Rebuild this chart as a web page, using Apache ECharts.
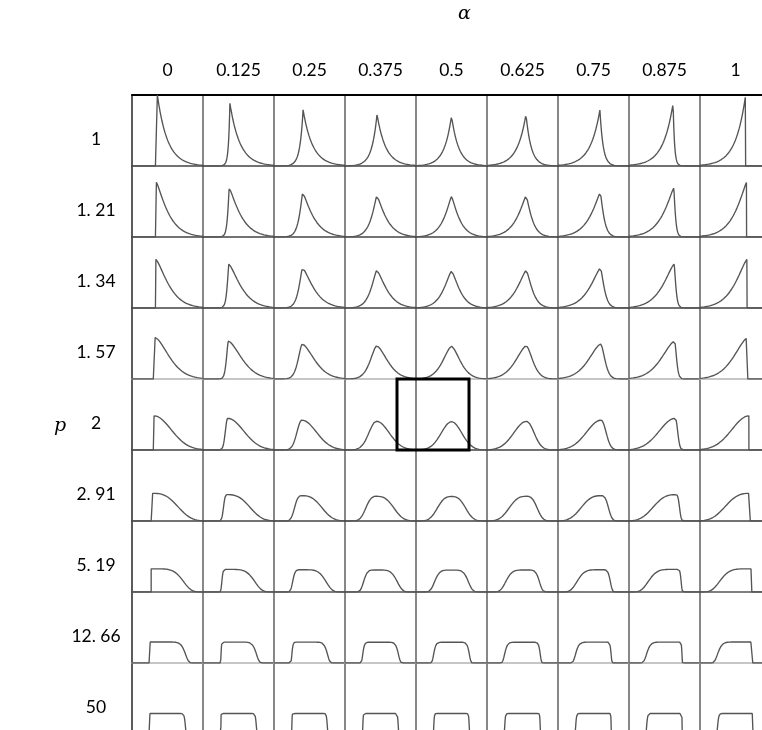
<!DOCTYPE html>
<html>
<head>
<meta charset="utf-8">
<script src="https://cdn.jsdelivr.net/npm/echarts@6/dist/echarts.min.js"></script>
<style>
  html, body { margin: 0; padding: 0; background: #fff; }
  #chart { width: 762px; height: 730px; }
</style>
</head>
<body>
<div id="chart"></div>
<script>
// Skew parameter (columns) and shape parameter (rows) of the asymmetric generalized Gaussian
const alphaLabels = ['0', '0.125', '0.25', '0.375', '0.5', '0.625', '0.75', '0.875', '1'];
const alphaValues = [0, 0.125, 0.25, 0.375, 0.5, 0.625, 0.75, 0.875, 1];
const pLabels = ['1', '1. 21', '1. 34', '1. 57', '2', '2. 91', '5. 19', '12. 66', '50'];
const pValues = [1, 1.21, 1.34, 1.57, 2, 2.91, 5.19, 12.66, 50];

// Each panel shows the standardized density (zero mean, unit variance)
const xRange = [-3.5, 3.5];
const densityRange = [0, 1];

// Table layout
const TABLE_LEFT = 132;
const TABLE_TOP = 95;
const CELL = 71;
const rowLineColors = ['#444', '#444', '#444', '#b4b4b4', '#444', '#444', '#555', '#b4b4b4', '#444'];

function gamma(z) {
  if (z < 0.5) return Math.PI / (Math.sin(Math.PI * z) * gamma(1 - z));
  z -= 1;
  const c = [0.99999999999980993, 676.5203681218851, -1259.1392167224028,
    771.32342877765313, -176.61502916214059, 12.507343278686905,
    -0.13857109526572012, 9.9843695780195716e-6, 1.5056327351493116e-7];
  let x = c[0];
  for (let i = 1; i < 9; i++) x += c[i] / (z + i);
  const t = z + 7.5;
  return Math.sqrt(2 * Math.PI) * Math.pow(t, z + 0.5) * Math.exp(-t) * x;
}

// Asymmetric generalized Gaussian: left scale ~ alpha, right scale ~ (1 - alpha)
function densityCurve(alpha, p) {
  const bl = alpha, br = 1 - alpha;
  const g1 = gamma(1 / p), g2 = gamma(2 / p), g3 = gamma(3 / p);
  const mean = (br - bl) * g2 / g1;
  const m2 = (br * br * br + bl * bl * bl) * g3 / ((bl + br) * g1);
  const s = 1 / Math.sqrt(m2 - mean * mean);
  const norm = p / ((bl + br) * g1);
  const raw = x => {
    if (x === 0) return norm;
    if (x < 0) return bl === 0 ? 0 : norm * Math.exp(-Math.pow(-x / bl, p));
    return br === 0 ? 0 : norm * Math.exp(-Math.pow(x / br, p));
  };
  const mode = -mean * s;
  const peak = norm / s;
  const N = 500;
  const left = [], right = [];
  for (let i = 0; i <= N; i++) {
    const xs = xRange[0] + (xRange[1] - xRange[0]) * i / N;
    const y = raw(xs / s + mean) / s;
    if (xs < mode) left.push([xs, y]);
    else if (xs > mode) right.push([xs, y]);
  }
  const mid = [];
  if (bl === 0) mid.push([mode, 0]);
  mid.push([mode, peak]);
  if (br === 0) mid.push([mode, 0]);
  return left.concat(mid, right);
}

const grids = [], xAxes = [], yAxes = [], series = [];
pValues.forEach((p, r) => {
  alphaValues.forEach((a, c) => {
    const idx = grids.length;
    grids.push({
      left: TABLE_LEFT + c * CELL, top: TABLE_TOP + r * CELL,
      width: CELL, height: CELL, containLabel: false, outerBoundsMode: 'none'
    });
    xAxes.push({
      gridIndex: idx, type: 'value', min: xRange[0], max: xRange[1],
      axisLine: { show: true, onZero: false, lineStyle: { color: rowLineColors[r], width: 1.6 } },
      axisTick: { show: false }, axisLabel: { show: false }, splitLine: { show: false }
    });
    yAxes.push({
      gridIndex: idx, type: 'value', min: densityRange[0], max: densityRange[1],
      axisLine: { show: true, onZero: false, lineStyle: { color: c === 0 ? '#333' : '#6a6a6a', width: 1.6 } },
      axisTick: { show: false }, axisLabel: { show: false }, splitLine: { show: false }
    });
    series.push({
      type: 'line', xAxisIndex: idx, yAxisIndex: idx,
      data: densityCurve(a, p),
      showSymbol: false, symbol: 'none', silent: true,
      lineStyle: { color: '#555', width: 1.35 }
    });
  });
});

// Header grid carrying the row / column labels
const headerIdx = grids.length;
grids.push({ left: TABLE_LEFT, top: TABLE_TOP, width: CELL * 9, height: CELL * 9, outerBoundsMode: 'none' });
xAxes.push({
  gridIndex: headerIdx, type: 'category', data: alphaLabels, position: 'top',
  axisLine: { show: true, lineStyle: { color: '#000', width: 2 } },
  axisTick: { show: false }, splitLine: { show: false },
  axisLabel: { margin: 25, verticalAlign: 'middle', color: '#000', fontSize: 17.5, fontFamily: 'Lato' }
});
yAxes.push({
  gridIndex: headerIdx, type: 'category', data: pLabels, inverse: true,
  axisLine: { show: false }, axisTick: { show: false }, splitLine: { show: false },
  axisLabel: { margin: 36, align: 'center', verticalAlign: 'top',
    color: '#000', fontSize: 17.5, fontFamily: 'Lato' }
});

const chart = echarts.init(document.getElementById('chart'), null, { renderer: 'canvas' });
chart.setOption({
  backgroundColor: '#fff',
  animation: false,
  grid: grids,
  xAxis: xAxes,
  yAxis: yAxes,
  series: series,
  graphic: [
    { type: 'text', left: 458, top: 5,
      style: { text: 'α', fontSize: 19, fontStyle: 'italic', fontFamily: 'DejaVu Serif', fill: '#000' } },
    { type: 'text', left: 54, top: 417,
      style: { text: 'p', fontSize: 19, fontStyle: 'italic', fontFamily: 'DejaVu Serif', fill: '#000' } },
    { type: 'rect', z: 100,
      shape: { x: TABLE_LEFT + 4 * CELL - 19, y: TABLE_TOP + 4 * CELL, width: CELL + 1, height: CELL },
      style: { fill: 'none', stroke: '#000', lineWidth: 3 } }
  ]
});
</script>
</body>
</html>
